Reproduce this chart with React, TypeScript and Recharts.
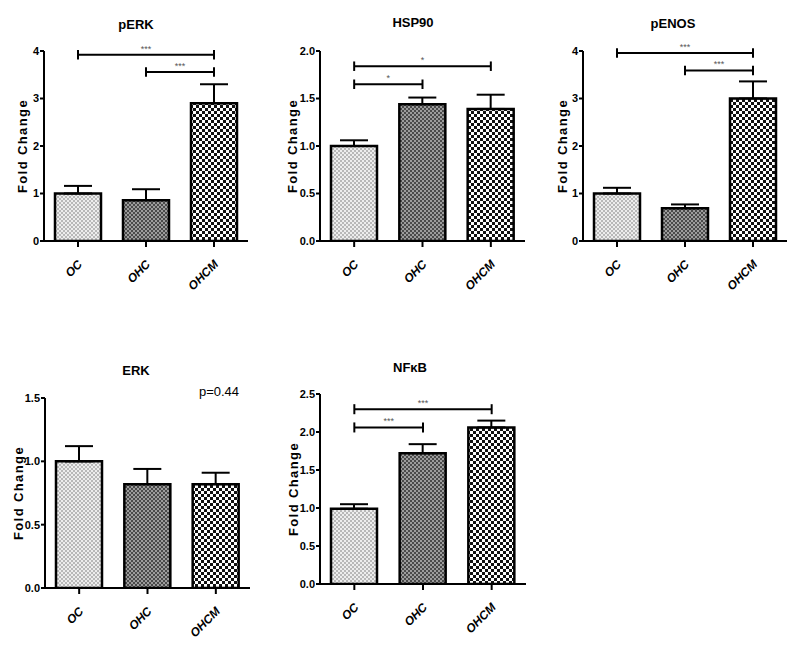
import React from 'react';
import { BarChart, Bar, XAxis, YAxis, ErrorBar, ReferenceLine, Cell } from 'recharts';

const FONT = '"Liberation Sans", Arial, sans-serif';

// Categories
const groups = ['OC', 'OHC', 'OHCM'];
const patternIds = ['patOC', 'patOHC', 'patOHCM'];

// pERK
const perkMeans = [1.0, 0.86, 2.9];
const perkErrors = [0.16, 0.23, 0.4];
const perkTicks = [0, 1, 2, 3, 4];
const perkBrackets = [
  { from: 'OC', to: 'OHCM', y: 3.92, stars: '***' },
  { from: 'OHC', to: 'OHCM', y: 3.56, stars: '***' },
];

// HSP90
const hspMeans = [1.0, 1.44, 1.39];
const hspErrors = [0.06, 0.07, 0.15];
const hspTicks = [0, 0.5, 1.0, 1.5, 2.0];
const hspBrackets = [
  { from: 'OC', to: 'OHCM', y: 1.84, stars: '*' },
  { from: 'OC', to: 'OHC', y: 1.65, stars: '*' },
];

// pENOS
const penosMeans = [1.0, 0.69, 3.0];
const penosErrors = [0.12, 0.08, 0.36];
const penosTicks = [0, 1, 2, 3, 4];
const penosBrackets = [
  { from: 'OC', to: 'OHCM', y: 3.96, stars: '***' },
  { from: 'OHC', to: 'OHCM', y: 3.59, stars: '***' },
];

// ERK
const erkMeans = [1.0, 0.82, 0.82];
const erkErrors = [0.12, 0.12, 0.09];
const erkTicks = [0, 0.5, 1.0, 1.5];
const erkBrackets: { from: string; to: string; y: number; stars: string }[] = [];

// NFkB
const nfkbMeans = [0.99, 1.72, 2.06];
const nfkbErrors = [0.06, 0.12, 0.09];
const nfkbTicks = [0, 0.5, 1.0, 1.5, 2.0, 2.5];
const nfkbBrackets = [
  { from: 'OC', to: 'OHCM', y: 2.3, stars: '***' },
  { from: 'OC', to: 'OHC', y: 2.06, stars: '***' },
];

const XTick = (props: any) => {
  const { x, y, payload } = props;
  const ax = x + 5;
  const ay = y + 16;
  return (
    <text
      x={ax}
      y={ay}
      transform={`rotate(-45 ${ax} ${ay})`}
      textAnchor="end"
      fontSize={12}
      fontWeight="bold"
      fontStyle="italic"
      fontFamily={FONT}
      fill="#000"
    >
      {payload.value}
    </text>
  );
};

type Layout = {
  left: number;
  top: number;
  width: number;
  height: number;
  yAxisWidth: number;
  marginTop: number;
  marginRight: number;
  xAxisHeight: number;
};

function Panel(props: {
  means: number[];
  errors: number[];
  ticks: number[];
  decimals: number;
  brackets: { from: string; to: string; y: number; stars: string }[];
  tickHalf: number;
  layout: Layout;
}) {
  const { means, errors, ticks, decimals, brackets, tickHalf, layout } = props;
  const data = groups.map((g, i) => ({ name: g, value: means[i], err: [0, errors[i]] }));
  const refs = brackets.flatMap((b, i) => [
    <ReferenceLine
      key={`h${i}`}
      segment={[{ x: b.from, y: b.y }, { x: b.to, y: b.y }]}
      stroke="#000"
      strokeWidth={2}
      ifOverflow="visible"
      label={{ value: b.stars, position: 'top', fill: '#555', fontSize: 9, offset: 3, fontFamily: FONT }}
    />,
    <ReferenceLine
      key={`l${i}`}
      segment={[{ x: b.from, y: b.y + tickHalf }, { x: b.from, y: b.y - tickHalf }]}
      stroke="#000"
      strokeWidth={2}
      ifOverflow="visible"
    />,
    <ReferenceLine
      key={`r${i}`}
      segment={[{ x: b.to, y: b.y + tickHalf }, { x: b.to, y: b.y - tickHalf }]}
      stroke="#000"
      strokeWidth={2}
      ifOverflow="visible"
    />,
  ]);
  return (
    <div style={{ position: 'absolute', left: layout.left, top: layout.top }}>
      <BarChart
        width={layout.width}
        height={layout.height}
        data={data}
        margin={{ top: layout.marginTop, right: layout.marginRight, bottom: 0, left: 0 }}
        barSize={46}
      >
        <XAxis
          dataKey="name"
          height={layout.xAxisHeight}
          axisLine={{ stroke: '#000', strokeWidth: 2 }}
          tickLine={{ stroke: '#000', strokeWidth: 2 }}
          tickSize={6}
          tick={<XTick />}
          interval={0}
        />
        <YAxis
          width={layout.yAxisWidth}
          domain={[ticks[0], ticks[ticks.length - 1]]}
          ticks={ticks}
          allowDataOverflow
          tickFormatter={(v: number) => v.toFixed(decimals)}
          axisLine={{ stroke: '#000', strokeWidth: 2 }}
          tickLine={{ stroke: '#000', strokeWidth: 2 }}
          tickSize={4}
          tickMargin={1}
          tick={{ fill: '#000', fontSize: 11, fontWeight: 'bold', fontFamily: FONT }}
          label={{
            value: 'Fold Change',
            angle: -90,
            position: 'center',
            fill: '#000',
            fontSize: 13,
            fontWeight: 'bold',
            fontFamily: FONT,
            letterSpacing: 1.4,
          }}
        />
        <Bar dataKey="value" stroke="#000" strokeWidth={2.5} isAnimationActive={false}>
          {data.map((d, i) => (
            <Cell key={d.name} fill={`url(#${patternIds[i]})`} />
          ))}
          <ErrorBar dataKey="err" width={14} stroke="#000" strokeWidth={2} direction="y" isAnimationActive={false} />
        </Bar>
        {refs}
      </BarChart>
    </div>
  );
}

export default function App() {
  return (
    <div style={{ position: 'absolute', left: 0, top: 0, width: 800, height: 645, background: '#fff', overflow: 'hidden' }}>
      <svg width={800} height={645} style={{ position: 'absolute', left: 0, top: 0 }}>
        <defs>
          <pattern id="patOC" width={4} height={4} patternUnits="userSpaceOnUse">
            <rect width={4} height={4} fill="#ededed" />
            <rect x={0} y={0} width={2} height={2} fill="#b8b8b8" />
            <rect x={2} y={2} width={2} height={2} fill="#b8b8b8" />
          </pattern>
          <pattern id="patOHC" width={4} height={4} patternUnits="userSpaceOnUse">
            <rect width={4} height={4} fill="#9c9c9c" />
            <rect x={0} y={0} width={2} height={2} fill="#4a4a4a" />
            <rect x={2} y={2} width={2} height={2} fill="#4a4a4a" />
          </pattern>
          <pattern id="patOHCM" width={6} height={6} patternUnits="userSpaceOnUse">
            <rect width={6} height={6} fill="#fff" />
            <rect x={0} y={0} width={3} height={3} fill="#111" />
            <rect x={3} y={3} width={3} height={3} fill="#111" />
          </pattern>
        </defs>
        <g fontFamily={FONT} fontWeight="bold" fontSize={13} fill="#000" textAnchor="middle">
          <text x={136} y={29}>pERK</text>
          <text x={413} y={27}>HSP90</text>
          <text x={673} y={28}>pENOS</text>
          <text x={136} y={375}>ERK</text>
          <text x={410} y={372}>NFκB</text>
        </g>
        <text x={219} y={396} fontFamily={FONT} fontSize={13} textAnchor="middle" fill="#000">p=0.44</text>
      </svg>

      <Panel
        means={perkMeans}
        errors={perkErrors}
        ticks={perkTicks}
        decimals={0}
        brackets={perkBrackets}
        tickHalf={0.1}
        layout={{ left: 1, top: 0, width: 259, height: 320, yAxisWidth: 43, marginTop: 51, marginRight: 12, xAxisHeight: 79 }}
      />
      <Panel
        means={hspMeans}
        errors={hspErrors}
        ticks={hspTicks}
        decimals={1}
        brackets={hspBrackets}
        tickHalf={0.05}
        layout={{ left: 264, top: 0, width: 271, height: 320, yAxisWidth: 56, marginTop: 51, marginRight: 10, xAxisHeight: 79 }}
      />
      <Panel
        means={penosMeans}
        errors={penosErrors}
        ticks={penosTicks}
        decimals={0}
        brackets={penosBrackets}
        tickHalf={0.1}
        layout={{ left: 541, top: 0, width: 256, height: 320, yAxisWidth: 42, marginTop: 51, marginRight: 10, xAxisHeight: 79 }}
      />
      <Panel
        means={erkMeans}
        errors={erkErrors}
        ticks={erkTicks}
        decimals={1}
        brackets={erkBrackets}
        tickHalf={0.04}
        layout={{ left: -9, top: 320, width: 269, height: 325, yAxisWidth: 54, marginTop: 78, marginRight: 10, xAxisHeight: 57 }}
      />
      <Panel
        means={nfkbMeans}
        errors={nfkbErrors}
        ticks={nfkbTicks}
        decimals={1}
        brackets={nfkbBrackets}
        tickHalf={0.066}
        layout={{ left: 266, top: 320, width: 270, height: 325, yAxisWidth: 54, marginTop: 74, marginRight: 10, xAxisHeight: 61 }}
      />
    </div>
  );
}
